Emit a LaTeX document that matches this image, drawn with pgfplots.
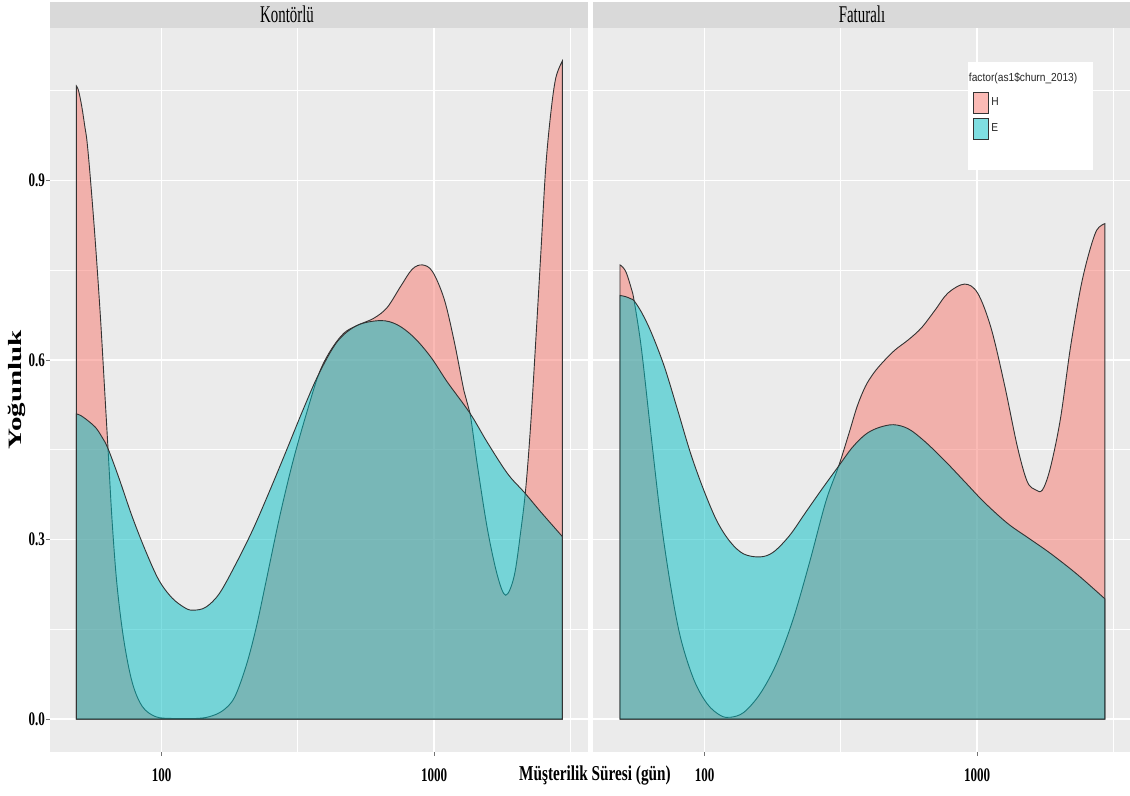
\documentclass[border=0pt]{standalone}
\usepackage{fontspec}
\setmainfont{Liberation Serif}
\newfontfamily\tickfont{Liberation Serif}[FakeStretch=0.68]
\newfontfamily\xlabfont{Liberation Serif}[FakeStretch=0.72]
\newfontfamily\stripfont{Liberation Serif}[FakeStretch=0.62]
\newfontfamily\legfont{Liberation Sans}[FakeStretch=0.88]
\usepackage{graphicx}
\usepackage{pgfplots}
\usepackage{pgfplotstable}
\pgfplotsset{compat=1.18}

\definecolor{hcol}{HTML}{F8766D}
\definecolor{ecol}{HTML}{00BFC4}
\definecolor{panelbg}{HTML}{EBEBEB}
\definecolor{stripbg}{HTML}{D9D9D9}

% density of customer tenure (x = log10 of days), churn_2013 = H / E
\pgfplotstableread{
logdays density
1.687 1.058
1.695 1.050
1.707 1.023
1.718 0.990
1.726 0.965
1.738 0.905
1.756 0.800
1.775 0.673
1.793 0.531
1.803 0.452
1.818 0.331
1.836 0.224
1.861 0.132
1.892 0.061
1.929 0.021
1.978 0.004
2.040 0.001
2.125 0.001
2.175 0.004
2.224 0.014
2.267 0.036
2.310 0.089
2.347 0.153
2.384 0.232
2.433 0.338
2.482 0.431
2.531 0.510
2.577 0.577
2.620 0.616
2.669 0.645
2.718 0.658
2.779 0.670
2.828 0.688
2.877 0.723
2.920 0.752
2.957 0.759
2.994 0.748
3.037 0.702
3.074 0.631
3.110 0.548
3.132 0.511
3.159 0.424
3.196 0.317
3.233 0.239
3.263 0.207
3.294 0.239
3.319 0.317
3.337 0.388
3.355 0.495
3.374 0.638
3.392 0.780
3.410 0.923
3.429 1.015
3.447 1.072
3.471 1.100
}\kontH

\pgfplotstableread{
logdays density
1.687 0.510
1.700 0.508
1.720 0.502
1.756 0.488
1.780 0.472
1.803 0.452
1.843 0.403
1.892 0.338
1.941 0.281
1.990 0.232
2.039 0.202
2.089 0.185
2.119 0.182
2.162 0.187
2.212 0.210
2.273 0.260
2.335 0.317
2.396 0.381
2.458 0.449
2.519 0.517
2.577 0.577
2.645 0.631
2.718 0.658
2.804 0.666
2.865 0.659
2.926 0.638
2.988 0.605
3.049 0.563
3.132 0.511
3.196 0.462
3.270 0.410
3.331 0.379
3.392 0.346
3.471 0.305
}\kontE

\pgfplotstableread{
logdays density
1.689 0.759
1.700 0.755
1.713 0.745
1.731 0.719
1.741 0.699
1.768 0.618
1.804 0.471
1.840 0.330
1.877 0.217
1.913 0.133
1.961 0.065
2.010 0.025
2.058 0.006
2.094 0.003
2.143 0.011
2.203 0.042
2.264 0.093
2.324 0.166
2.385 0.262
2.445 0.364
2.492 0.423
2.530 0.478
2.560 0.523
2.590 0.556
2.620 0.578
2.655 0.597
2.699 0.617
2.748 0.634
2.796 0.654
2.845 0.683
2.893 0.712
2.954 0.727
3.002 0.712
3.051 0.654
3.100 0.560
3.148 0.455
3.184 0.397
3.215 0.383
3.240 0.383
3.269 0.420
3.306 0.502
3.342 0.619
3.379 0.718
3.409 0.776
3.439 0.817
3.469 0.828
}\fatH

\pgfplotstableread{
logdays density
1.689 0.708
1.710 0.706
1.731 0.702
1.741 0.699
1.768 0.680
1.804 0.646
1.852 0.589
1.901 0.516
1.949 0.443
1.998 0.381
2.046 0.330
2.094 0.296
2.143 0.276
2.203 0.271
2.252 0.279
2.312 0.307
2.373 0.347
2.433 0.386
2.492 0.423
2.542 0.454
2.591 0.476
2.638 0.487
2.693 0.492
2.748 0.485
2.808 0.464
2.881 0.432
2.954 0.397
3.027 0.362
3.112 0.327
3.184 0.304
3.269 0.277
3.367 0.242
3.469 0.201
}\fatE

\pgfplotsset{
  panel/.style={
    scale only axis, width=269pt, height=362pt,
    anchor=south west,
    xmin=1.59, xmax=3.565, ymin=-0.055, ymax=1.155,
    axis background/.style={fill=panelbg},
    axis line style={draw=none},
    xtick={2,3}, xticklabels={100,1000},
    minor xtick={2.5,3.5},
    ytick={0,0.3,0.6,0.9},
    minor ytick={0.15,0.45,0.75,1.05},
    grid=both,
    major grid style={white, line width=0.8pt},
    minor grid style={white, line width=0.45pt},
    tick align=outside, major tick length=2pt, minor tick length=0pt,
    xtick pos=bottom, ytick pos=left,
    tick style={color=black!55, line width=0.5pt},
    ticklabel style={font=\tickfont\bfseries\fontsize{9.6}{10}\selectfont, text=black},
    xticklabel style={yshift=-3pt},
    yticklabel style={xshift=3pt},
    every axis title/.style={at={(0.5,1)}, anchor=south, fill=stripbg,
      minimum width=269pt, minimum height=13pt, inner sep=0pt,
      font=\stripfont\fontsize{12}{13}\selectfont},
  },
  dens/.style={draw=black!80, line width=0.45pt, fill=#1, fill opacity=0.5,
    smooth, tension=0.55},
}

\begin{document}
\begin{tikzpicture}
\path[use as bounding box] (0,0) rectangle (565pt,398pt);

\begin{axis}[panel, at={(25pt,22pt)},
  title={\hspace*{-32pt}Kontörlü},
  yticklabels={0.0,0.3,0.6,0.9},
  xlabel={Müşterilik Süresi (gün)},
  every axis x label/.style={at={(axis description cs:1.013,-0.0318)}, anchor=center,
    font=\xlabfont\bfseries\fontsize{10.6}{12}\selectfont},
  ylabel={\scalebox{1}[0.65]{\bfseries\fontsize{14.5}{16}\selectfont Yoğunluk}},
  every axis y label/.style={at={(axis description cs:-0.061,0.5)}, anchor=center, rotate=90},
]
\addplot[dens=hcol] table[x=logdays, y=density] {\kontH} \closedcycle;
\addplot[dens=ecol] table[x=logdays, y=density] {\kontE} \closedcycle;
\end{axis}

\begin{axis}[panel, at={(296.5pt,22pt)},
  title={Faturalı},
  yticklabels={},
  ytick style={draw=none},
  legend style={at={(0.7058,0.9116)}, anchor=north west, draw=none, fill=none,
    inner sep=0pt, row sep=2pt, column sep=1.2pt,
    nodes={inner sep=0pt, text=black!85, font=\legfont\fontsize{5.8}{7}\selectfont}},
  legend cell align=left,
  legend image code/.code={\draw[#1, sharp plot] (0pt,-5.25pt) rectangle (7.5pt,5.25pt);},
]
\addplot[dens=hcol] table[x=logdays, y=density] {\fatH} \closedcycle;
\addlegendentry{H}
\addplot[dens=ecol] table[x=logdays, y=density] {\fatE} \closedcycle;
\addlegendentry{E}
% legend panel
\fill[white] (axis description cs:0.6965,0.953) rectangle (axis description cs:0.929,0.804);
\node[anchor=west, inner sep=0pt, text=black!85, font=\legfont\fontsize{5.8}{7}\selectfont]
  at (axis description cs:0.698,0.931) {factor(as1\$churn\_2013)};
\end{axis}
\end{tikzpicture}
\end{document}
